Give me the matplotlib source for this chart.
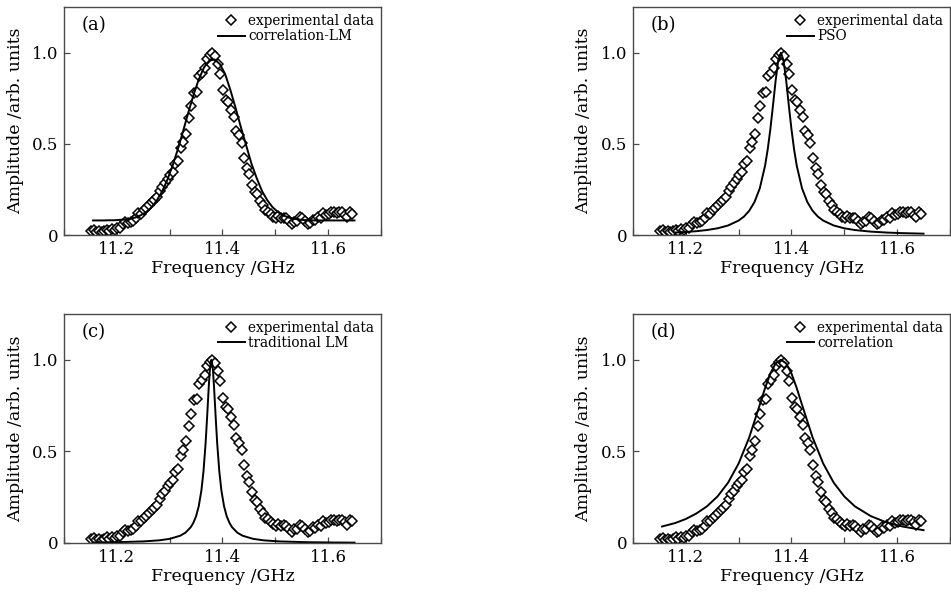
import matplotlib
matplotlib.use('Agg')
import matplotlib.pyplot as plt
from matplotlib.ticker import MultipleLocator

plt.rcParams['font.family'] = ['DejaVu Serif']

# measured spectrum, 11.15 .. 11.645 GHz in 5 MHz steps
freq = [round(11.151 + 0.005 * i, 3) for i in range(100)]
amplitude = [
    0.022, 0.028, 0.018, 0.024, 0.015, 0.020, 0.030, 0.024, 0.035, 0.026,
    0.040, 0.037, 0.060, 0.070, 0.066, 0.072, 0.078, 0.095, 0.120, 0.118,
    0.135, 0.150, 0.165, 0.182, 0.190, 0.210, 0.240, 0.265, 0.285, 0.310,
    0.330, 0.345, 0.390, 0.405, 0.475, 0.510, 0.555, 0.640, 0.705, 0.780,
    0.785, 0.870, 0.890, 0.915, 0.965, 0.990, 1.000, 0.982, 0.937, 0.886,
    0.793, 0.742, 0.729, 0.686, 0.646, 0.572, 0.548, 0.507, 0.424, 0.365,
    0.332, 0.277, 0.236, 0.225, 0.188, 0.162, 0.138, 0.129, 0.116, 0.101,
    0.092, 0.105, 0.092, 0.096, 0.092, 0.077, 0.059, 0.074, 0.075, 0.100,
    0.092, 0.075, 0.060, 0.065, 0.085, 0.080, 0.100, 0.095, 0.120, 0.110,
    0.115, 0.125, 0.128, 0.122, 0.128, 0.125, 0.112, 0.100, 0.125, 0.118,
]

# (a) correlation-LM fit
freq_a = [
    11.155, 11.165, 11.175, 11.185, 11.195, 11.205, 11.215, 11.225, 11.235, 11.245,
    11.255, 11.265, 11.275, 11.285, 11.295, 11.305, 11.315, 11.325, 11.335, 11.345,
    11.355, 11.365, 11.375, 11.385, 11.395, 11.405, 11.415, 11.425, 11.435, 11.445,
    11.455, 11.465, 11.475, 11.485, 11.495, 11.505, 11.515, 11.525, 11.535, 11.545,
    11.555, 11.565, 11.575, 11.6, 11.625, 11.65,
]
fit_a = [
    0.080, 0.080, 0.080, 0.081, 0.081, 0.083, 0.085, 0.089, 0.096, 0.108,
    0.125, 0.150, 0.187, 0.235, 0.298, 0.376, 0.466, 0.565, 0.669, 0.767,
    0.853, 0.919, 0.957, 0.963, 0.938, 0.883, 0.795, 0.695, 0.590, 0.490,
    0.390, 0.310, 0.240, 0.190, 0.152, 0.126, 0.108, 0.096, 0.089, 0.085,
    0.082, 0.081, 0.080, 0.080, 0.080, 0.080,
]

# (b) PSO fit
freq_b = [
    11.18, 11.20, 11.22, 11.24, 11.26, 11.28, 11.30, 11.31, 11.32, 11.33,
    11.34, 11.35, 11.355, 11.36, 11.365, 11.37, 11.375, 11.38, 11.385, 11.39,
    11.395, 11.40, 11.405, 11.41, 11.42, 11.43, 11.44, 11.45, 11.46, 11.48,
    11.50, 11.52, 11.55, 11.58, 11.61, 11.65,
]
fit_b = [
    0.0136, 0.0168, 0.0211, 0.0274, 0.0369, 0.0523, 0.0794, 0.101, 0.133, 0.181,
    0.256, 0.380, 0.469, 0.580, 0.710, 0.847, 0.957, 1.000, 0.957, 0.847,
    0.710, 0.580, 0.469, 0.380, 0.256, 0.181, 0.133, 0.101, 0.0794, 0.0523,
    0.0369, 0.0274, 0.0187, 0.0136, 0.0103, 0.0075,
]

# (c) traditional LM fit
freq_c = [
    11.155, 11.20, 11.25, 11.28, 11.30, 11.32, 11.33, 11.34, 11.345, 11.35,
    11.355, 11.36, 11.364, 11.368, 11.371, 11.374, 11.376, 11.378, 11.379, 11.380,
    11.382, 11.384, 11.387, 11.390, 11.394, 11.398, 11.403, 11.408, 11.413, 11.418,
    11.428, 11.438, 11.458, 11.478, 11.508, 11.558, 11.603, 11.65,
]
fit_c = [
    0.0029, 0.0045, 0.0086, 0.0145, 0.0226, 0.0397, 0.0566, 0.0865, 0.111, 0.146,
    0.200, 0.285, 0.390, 0.543, 0.692, 0.852, 0.941, 0.993, 1.000, 0.993,
    0.941, 0.852, 0.692, 0.543, 0.390, 0.285, 0.200, 0.146, 0.111, 0.0865,
    0.0566, 0.0397, 0.0226, 0.0145, 0.0086, 0.0045, 0.0029, 0.0020,
]

# (d) correlation fit
freq_d = [
    11.155, 11.18, 11.20, 11.22, 11.24, 11.26, 11.28, 11.30, 11.32, 11.34,
    11.35, 11.36, 11.37, 11.38, 11.39, 11.40, 11.41, 11.42, 11.44, 11.46,
    11.48, 11.50, 11.52, 11.55, 11.58, 11.61, 11.65,
]
fit_d = [
    0.090, 0.109, 0.131, 0.161, 0.200, 0.254, 0.329, 0.434, 0.576, 0.754,
    0.845, 0.925, 0.980, 1.000, 0.980, 0.925, 0.845, 0.754, 0.576, 0.434,
    0.329, 0.254, 0.200, 0.147, 0.112, 0.090, 0.070,
]

panel_tags = ['(a)', '(b)', '(c)', '(d)']
fit_names = ['correlation-LM', 'PSO', 'traditional LM', 'correlation']
fit_x = [freq_a, freq_b, freq_c, freq_d]
fit_y = [fit_a, fit_b, fit_c, fit_d]
y_ticks = [0, 0.5, 1.0]
y_tick_labels = ['0', '0.5', '1.0']
x_ticks = [11.2, 11.4, 11.6]

fig = plt.figure(figsize=(9.51, 5.95), dpi=100)
# axes boxes in figure fractions: left, bottom, width, height
boxes = [
    (0.0673, 0.605, 0.3333, 0.383),
    (0.6656, 0.605, 0.3333, 0.383),
    (0.0673, 0.0874, 0.3333, 0.385),
    (0.6656, 0.0874, 0.3333, 0.385),
]
frame_col = '#4a4a4a'

for box, tag, name, fx, fy in zip(boxes, panel_tags, fit_names, fit_x, fit_y):
    ax = fig.add_axes(box)
    ax.plot(freq, amplitude, linestyle='none', marker='D', markersize=4.6,
            markerfacecolor='white', markeredgecolor='black', markeredgewidth=1.1,
            label='experimental data')
    ax.plot(fx, fy, color='black', linewidth=1.4, label=name)

    ax.set_xlim(11.1, 11.7)
    ax.set_ylim(0, 1.25)
    ax.set_xticks(x_ticks)
    ax.xaxis.set_minor_locator(MultipleLocator(0.1))
    ax.set_yticks(y_ticks)
    ax.set_yticklabels(y_tick_labels)
    ax.tick_params(which='both', direction='in', length=4, width=0.9,
                   color=frame_col, labelsize=12, pad=4)
    for sp in ax.spines.values():
        sp.set_color(frame_col)
        sp.set_linewidth(1.0)

    ax.set_xlabel('Frequency /GHz', fontsize=12.5, labelpad=2)
    ax.set_ylabel('Amplitude /arb. units', fontsize=12.5, labelpad=6)
    ax.text(0.057, 0.92, tag, transform=ax.transAxes, fontsize=13,
            ha='left', va='center')
    ax.legend(loc='upper right', frameon=False, fontsize=9.8, numpoints=1,
              handlelength=2.0, handletextpad=0.25, labelspacing=0.1,
              borderaxespad=0.3, borderpad=0.2)

fig.savefig('out.png', dpi=100)
